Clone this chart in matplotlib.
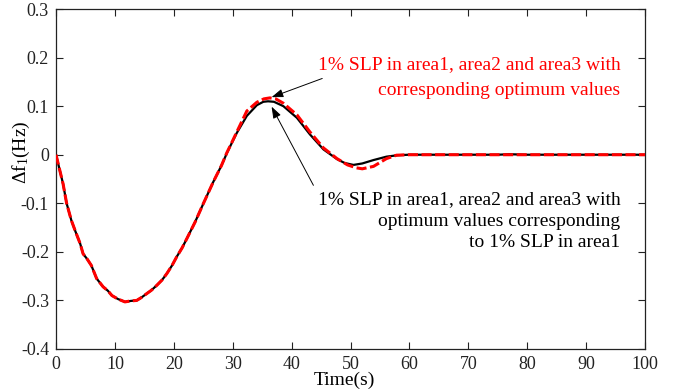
import matplotlib
matplotlib.use("Agg")
import matplotlib.pyplot as plt

# ── Data ──
t_black = [0, 0.5, 1.2, 1.8, 2.6, 3.3, 4.1, 4.6, 5.3, 6.0, 6.9, 8.0, 8.8, 9.5,
           10.5, 11.7, 12.7, 13.7, 14.5, 15.4, 16.2, 17.1, 18.0, 18.8, 19.7,
           20.5, 21.4, 22.2, 23.6, 25.0, 26.7, 28.1, 29.0, 29.8, 30.7, 32.4,
           34.1, 35.2, 36.0, 37.0, 38.6, 40.9, 43.1, 45.4, 47.7, 49.0, 50.5,
           52.0, 53.9, 56.1, 58.0, 60.0, 65.0, 70.0, 75.0, 77.0, 80.0, 85.0,
           90.0, 95.0, 100.0]
df_black = [0, -0.025, -0.06, -0.1, -0.135, -0.158, -0.183, -0.204, -0.215,
            -0.228, -0.255, -0.272, -0.28, -0.29, -0.297, -0.303, -0.301,
            -0.300, -0.294, -0.286, -0.279, -0.269, -0.258, -0.245, -0.228,
            -0.21, -0.192, -0.173, -0.139, -0.101, -0.056, -0.022, 0.003,
            0.023, 0.045, 0.080, 0.102, 0.109, 0.110, 0.109, 0.100, 0.076,
            0.042, 0.011, -0.009, -0.017, -0.021, -0.018, -0.011, -0.004,
            -0.001, 0, 0, 0, 0, 0.001, 0, 0, 0, 0, 0]

t_red = [0, 0.5, 1.2, 1.8, 2.6, 3.3, 4.1, 4.6, 5.3, 6.0, 6.9, 8.0, 8.8, 9.5,
         10.5, 11.7, 12.7, 13.7, 14.5, 15.4, 16.2, 17.1, 18.0, 18.8, 19.7,
         20.5, 21.4, 22.2, 23.6, 25.0, 26.7, 28.1, 29.0, 29.8, 30.7, 32.4,
         34.1, 35.3, 36.3, 37.3, 38.6, 40.9, 43.1, 45.4, 47.7, 49.5, 51.0,
         52.0, 53.9, 56.1, 57.8, 60.0, 65.0, 70.0, 75.0, 80.0, 85.0, 90.0,
         95.0, 100.0]
df_red = [0, -0.025, -0.06, -0.1, -0.135, -0.158, -0.183, -0.204, -0.215,
          -0.228, -0.255, -0.272, -0.28, -0.29, -0.297, -0.303, -0.301,
          -0.300, -0.294, -0.286, -0.279, -0.269, -0.258, -0.245, -0.228,
          -0.21, -0.192, -0.173, -0.139, -0.101, -0.056, -0.022, 0.004,
          0.024, 0.047, 0.090, 0.108, 0.115, 0.117, 0.115, 0.106, 0.082,
          0.047, 0.014, -0.008, -0.021, -0.027, -0.029, -0.024, -0.008,
          -0.001, 0, 0, 0, 0, 0, 0, 0, 0, 0]

x_ticks = [0, 10, 20, 30, 40, 50, 60, 70, 80, 90, 100]
y_ticks = [-0.4, -0.3, -0.2, -0.1, 0, 0.1, 0.2, 0.3]
y_ticklabels = ["-0.4", "-0.3", "-0.2", "-0.1", "0", "0.1", "0.2", "0.3"]

red_label = "1% SLP in area1, area2 and area3 with\ncorresponding optimum values"
black_label = ("1% SLP in area1, area2 and area3 with\n"
               "optimum values corresponding\nto 1% SLP in area1")

plt.rcParams["font.family"] = ["Liberation Serif", "DejaVu Serif"]
plt.rcParams["mathtext.fontset"] = "custom"
plt.rcParams["mathtext.rm"] = "Liberation Serif"
plt.rcParams["mathtext.it"] = "Liberation Serif"

fig = plt.figure(figsize=(6.74, 3.92), dpi=100)
fig.patch.set_facecolor("white")
ax = fig.add_axes([0.0831, 0.1097, 0.8739, 0.8673])

ax.plot(t_black, df_black, color="black", linewidth=1.6, zorder=2)
ax.plot(t_red, df_red, color="#ff0000", linewidth=2.2, dashes=(3.3, 1.15),
        zorder=3)

ax.set_xlim(0, 100)
ax.set_ylim(-0.4, 0.3)
ax.set_xticks(x_ticks)
ax.set_yticks(y_ticks)
ax.set_yticklabels(y_ticklabels)
ax.tick_params(direction="in", length=5, width=0.8, top=True, right=True,
               labelsize=13, pad=5, colors="#222")
for sp in ax.spines.values():
    sp.set_linewidth(0.9)
    sp.set_color("#222")

# labels placed where the reference has them
ax.set_xlabel("Time(s)", fontsize=14)
ax.xaxis.set_label_coords(0.489, -0.066)
ax.set_ylabel(r"$\Delta$f$_1$(Hz)", fontsize=14)
ax.yaxis.set_label_coords(-0.04, 0.58)

# ── Annotations ──
ax.annotate("", xy=(36.6, 0.1185), xytext=(45.2, 0.157),
            arrowprops=dict(arrowstyle="-|>,head_length=0.7,head_width=0.25",
                            color="black", lw=0.7, shrinkA=0, shrinkB=0))
ax.text(95.8, 0.159, red_label, color="#ff0000", fontsize=14, ha="right",
        va="center", linespacing=1.62)

ax.annotate("", xy=(36.6, 0.099), xytext=(43.7, -0.063),
            arrowprops=dict(arrowstyle="-|>,head_length=0.7,head_width=0.25",
                            color="black", lw=0.7, shrinkA=0, shrinkB=0))
ax.text(95.8, -0.137, black_label, color="black", fontsize=14, ha="right",
        va="center", linespacing=1.34)

fig.savefig("out.png", dpi=100, facecolor="white")
